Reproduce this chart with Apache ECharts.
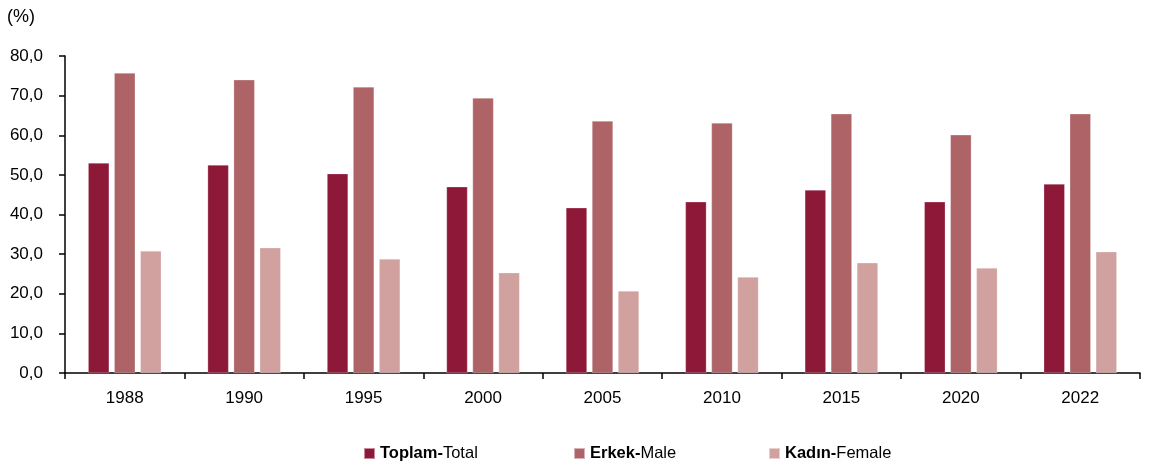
<!DOCTYPE html>
<html>
<head>
    <meta charset="utf-8">
    <title>Toplam / Erkek / Kadın</title>
    <style type="text/css">
        html, body { margin: 0; padding: 0; background: #fff; }
        #main { width: 1150px; height: 468px; }
    </style>
</head>
<body>
<div id="main"></div>
<script src="https://cdn.jsdelivr.net/npm/echarts@6/dist/echarts.min.js"></script>
<script>
    var years = ['1988', '1990', '1995', '2000', '2005', '2010', '2015', '2020', '2022'];
    var total = [53.0, 52.5, 50.3, 47.0, 41.7, 43.2, 46.2, 43.2, 47.7];
    var male = [75.7, 74.0, 72.2, 69.4, 63.6, 63.1, 65.4, 60.1, 65.4];
    var female = [30.8, 31.6, 28.8, 25.3, 20.7, 24.2, 27.8, 26.5, 30.6];

    var names = ['Toplam-Total', 'Erkek-Male', 'Kadın-Female'];
    var colors = ['#8e1838', '#ae6366', '#d0a19f'];

    var font = 'Liberation Sans, Arial, sans-serif';

    function makeLegend(name, left) {
        return {
            data: [name],
            left: left,
            top: 445,
            padding: 0,
            itemWidth: 11,
            itemHeight: 11,
            icon: 'rect',
            formatter: function (n) {
                var p = n.split('-');
                return '{b|' + p[0] + '-}{n|' + p[1] + '}';
            },
            textStyle: {
                rich: {
                    b: {fontFamily: font, fontSize: 16.5, fontWeight: 'bold', color: '#000'},
                    n: {fontFamily: font, fontSize: 16.5, color: '#000'}
                }
            }
        };
    }

    function makeSeries(i, values) {
        return {
            name: names[i],
            type: 'bar',
            data: values,
            barWidth: 21,
            barGap: '24%',
            itemStyle: {color: colors[i], borderColor: 'rgba(255,255,255,0.5)', borderWidth: 0.5}
        };
    }

    var myChart = echarts.init(document.getElementById('main'));
    var option = {
        animation: false,
        textStyle: {fontFamily: font},
        grid: {left: 65, right: 10, top: 56, bottom: 95},
        graphic: [{
            type: 'text', left: 7, top: 8,
            style: {text: '(%)', fontFamily: font, fontSize: 18, fill: '#000'}
        }],
        legend: [
            makeLegend(names[0], 363),
            makeLegend(names[1], 573),
            makeLegend(names[2], 768)
        ],
        xAxis: {
            type: 'category',
            data: years,
            axisLine: {lineStyle: {color: '#000', width: 1.5}},
            axisTick: {show: true, length: 6, inside: false, lineStyle: {color: '#000', width: 1.5}},
            axisLabel: {color: '#000', fontSize: 17, fontFamily: font, margin: 17}
        },
        yAxis: {
            type: 'value',
            min: 0,
            max: 80,
            interval: 10,
            splitLine: {show: false},
            axisLine: {show: true, lineStyle: {color: '#000', width: 1.5}},
            axisTick: {show: true, length: 6, lineStyle: {color: '#000', width: 1.5}},
            axisLabel: {
                color: '#000', fontSize: 17, fontFamily: font, margin: 22,
                formatter: function (v) { return v.toFixed(1).replace('.', ','); }
            }
        },
        series: [
            makeSeries(0, total),
            makeSeries(1, male),
            makeSeries(2, female)
        ]
    };
    myChart.setOption(option);
</script>
</body>
</html>
